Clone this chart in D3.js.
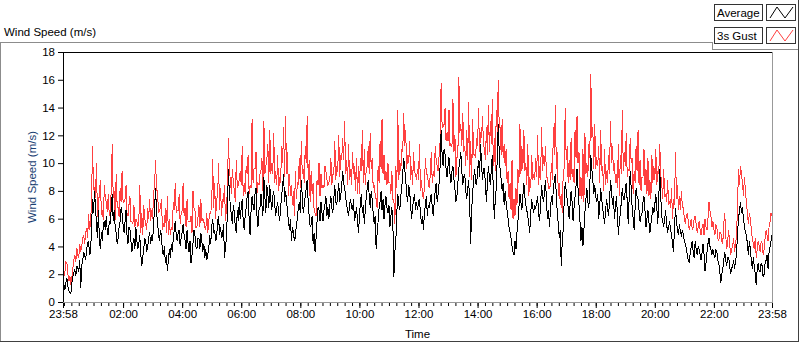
<!DOCTYPE html>
<html><head><meta charset="utf-8">
<script src="https://cdn.jsdelivr.net/npm/d3@7/dist/d3.min.js"></script>
<style>
body{margin:0;background:#fff;}
text{font-family:"Liberation Sans",Arial,sans-serif;}
</style>
</head><body>
<svg id="chart" width="800" height="342"></svg>
<script>
// ---- data (2-minute samples starting 23:58) ----
const stepMinutes = 2;
const seriesNames = ["Average", "3s Gust"];
const gust = [
 2.6,1.9,2.2,2.9,2.8,2.0,1.5,1.9,1.2,1.8,2.4,3.0,3.4,2.9,3.9,3.4,3.2,4.2,3.6,4.0,4.6,4.8,4.2,5.0,5.3,4.6,6.3,5.2,5.6,7.4,
 11.2,8.1,8.2,7.5,10.0,6.1,7.0,7.9,8.8,6.3,6.6,5.9,8.4,7.5,7.2,6.5,7.8,6.2,6.4,8.1,11.4,7.5,8.0,5.9,9.2,6.9,6.8,6.1,8.2,7.2,
 9.4,7.2,7.2,7.4,8.4,6.4,6.2,7.0,7.6,5.8,5.8,5.6,7.0,5.4,6.0,5.8,5.4,5.8,8.4,5.0,6.4,4.8,7.0,6.0,5.6,5.2,6.8,6.0,7.4,5.8,
 6.6,6.0,7.8,8.4,10.2,8.0,8.0,6.4,6.6,6.8,7.4,5.2,5.6,5.4,6.8,5.0,7.6,4.8,6.0,4.8,5.4,5.2,7.2,6.6,8.6,6.4,6.6,6.6,7.8,5.6,
 6.4,6.6,8.6,6.2,6.8,5.4,7.4,5.8,5.8,5.8,6.2,5.0,8.0,6.8,6.6,5.4,5.4,6.0,7.0,5.4,7.4,5.8,6.0,5.8,5.4,5.2,6.4,5.0,5.8,6.4,
 6.4,7.0,10.3,6.8,8.6,6.0,7.4,7.6,10.0,6.6,8.2,6.2,7.4,7.2,8.4,5.8,6.8,8.2,11.8,9.4,8.8,7.8,9.6,8.6,8.0,7.2,10.2,8.2,8.4,8.8,
 9.4,8.4,11.2,7.6,8.6,7.8,9.8,9.2,10.6,7.8,8.4,8.2,13.2,8.6,9.6,9.6,10.8,7.8,8.6,8.4,9.2,9.4,10.4,8.0,13.0,9.2,9.8,10.2,11.4,8.6,
 12.4,9.2,10.0,9.2,12.2,8.6,9.4,8.4,10.6,8.0,9.0,8.6,11.2,10.0,12.6,9.0,13.4,9.2,10.8,7.6,9.2,7.6,8.4,7.0,8.0,6.2,9.4,7.4,8.6,8.4,
 10.4,8.2,11.6,9.2,9.6,8.6,11.2,10.0,13.4,8.8,10.2,7.2,9.4,7.8,8.6,6.6,6.4,6.2,8.8,8.4,10.0,7.6,9.2,8.2,8.4,8.2,9.8,9.4,8.8,8.4,
 8.6,8.8,10.4,8.4,9.2,9.2,11.6,8.8,9.8,9.4,12.0,9.0,10.6,10.2,11.8,10.2,13.0,9.2,10.2,8.4,11.4,8.8,9.6,8.4,10.8,9.2,9.8,8.0,10.4,7.8,
 9.8,7.8,10.4,9.4,12.4,8.6,11.0,8.4,9.6,9.8,11.2,9.2,12.2,9.6,10.4,8.2,8.4,7.8,7.4,6.8,9.8,8.6,11.6,9.6,13.2,9.2,10.6,8.8,9.4,8.4,
 10.0,8.6,8.6,7.8,9.4,7.4,7.4,5.6,9.8,8.2,13.8,8.8,10.2,9.4,11.0,10.8,13.6,11.2,12.4,9.6,10.6,10.0,11.6,8.8,9.8,8.4,10.8,9.4,9.2,8.8,
 9.6,8.8,11.4,8.0,8.8,7.8,7.4,8.2,10.4,9.2,9.2,8.6,8.2,9.2,10.8,8.6,9.4,9.0,11.2,10.2,9.8,9.4,10.6,11.6,15.8,12.6,12.6,12.8,14.0,11.6,
 12.2,11.6,13.8,11.2,11.4,11.2,14.6,10.8,12.0,9.0,10.4,10.4,16.2,12.2,12.8,11.2,13.6,10.8,11.2,9.8,12.4,10.2,14.4,9.0,11.6,8.8,13.2,10.6,10.6,10.4,
 11.8,11.2,14.0,10.8,12.2,11.8,13.4,11.4,11.0,10.2,12.6,10.6,14.2,10.8,13.0,11.4,14.6,9.8,11.8,9.4,13.8,12.2,16.0,12.6,12.6,10.6,13.2,10.4,11.4,9.8,
 11.0,8.6,9.4,7.4,8.6,6.6,10.2,6.0,7.4,6.2,8.2,7.0,9.6,8.6,12.8,9.2,11.2,9.6,12.4,9.4,10.0,8.4,11.4,7.6,9.0,8.2,10.6,8.8,9.2,8.8,
 10.4,9.0,12.0,8.4,9.8,8.8,12.6,9.4,10.6,9.8,11.2,9.0,9.0,8.2,8.2,8.4,10.0,8.8,12.6,10.6,14.2,9.6,10.8,7.6,8.6,7.0,7.8,6.4,9.4,9.6,
 14.0,10.2,11.2,8.6,10.2,8.8,11.8,9.0,9.6,8.6,12.4,10.4,13.4,10.0,10.8,7.6,9.0,7.4,11.0,7.2,12.2,9.2,10.0,9.0,11.4,10.4,16.4,11.8,12.6,9.6,
 12.8,9.6,10.4,9.8,11.2,8.6,12.4,9.4,9.8,8.0,11.0,8.4,9.4,8.6,10.6,9.2,13.0,10.0,11.2,9.4,10.0,8.6,9.2,8.2,11.4,7.6,10.6,9.2,13.8,9.4,
 10.8,9.8,12.2,9.0,9.6,9.4,11.8,10.0,10.4,7.8,9.4,8.6,11.2,9.4,12.4,8.4,10.2,8.0,9.0,9.0,11.0,8.4,9.6,7.8,10.4,7.6,8.8,7.4,10.6,8.6,
 9.8,8.8,11.0,8.4,9.4,9.2,11.4,9.2,8.6,7.4,9.6,7.6,7.8,7.2,8.8,7.0,7.2,6.8,8.2,6.0,7.4,7.0,10.8,7.4,8.4,6.6,7.6,6.6,8.0,6.8,
 6.8,6.0,5.6,6.2,6.4,5.8,5.2,5.6,6.0,5.2,5.4,6.0,6.2,5.6,5.0,5.4,5.8,5.2,4.8,5.4,5.6,4.8,6.0,5.4,5.2,6.0,7.2,6.6,6.2,5.4,
 5.8,5.2,4.8,5.6,5.4,4.6,4.4,5.0,5.0,4.4,4.2,5.6,6.4,4.8,3.8,4.4,5.2,4.2,3.4,3.8,4.0,4.6,3.6,4.2,4.8,7.0,9.6,8.4,9.8,9.2,
 8.6,7.6,9.0,8.0,7.2,6.4,5.6,6.4,6.0,5.2,4.6,4.2,3.8,4.6,3.2,3.8,4.4,4.0,3.6,4.4,4.2,3.4,3.8,4.6,5.2,4.8,4.4,5.4,5.8,6.4,6.2
];
const average = [
 1.5,1.2,0.9,1.4,1.7,1.1,0.8,0.7,0.6,1.4,1.8,2.1,2.3,1.9,2.6,2.4,2.2,3.0,1.0,2.6,3.0,3.6,3.4,3.0,3.8,4.2,4.4,3.4,3.6,5.4,
 7.4,6.4,8.0,6.8,5.6,4.6,6.6,4.4,3.8,5.0,4.4,5.6,5.8,5.2,6.2,5.0,4.8,5.8,5.6,6.8,7.8,5.8,6.6,5.4,5.0,4.2,4.6,5.4,5.8,6.8,
 6.4,5.6,5.0,5.8,6.6,4.8,4.2,5.4,5.2,4.4,3.6,4.2,4.6,3.8,5.4,4.4,3.8,4.2,4.8,3.4,2.6,3.2,3.8,4.6,4.4,3.6,4.0,4.6,5.0,4.2,
 4.8,4.4,5.6,6.8,8.2,6.4,5.8,4.8,4.4,5.2,4.8,3.6,3.4,4.0,2.8,3.4,2.2,3.0,3.8,3.2,4.2,3.6,4.6,5.2,5.8,4.8,4.4,5.0,5.2,4.0,
 4.6,5.0,5.6,4.8,4.4,3.8,5.2,4.2,3.6,4.4,2.8,3.4,4.2,5.2,4.8,4.0,3.8,4.6,4.6,3.8,5.0,4.4,3.6,4.2,3.2,3.8,3.0,3.4,3.8,4.8,
 4.2,5.4,6.0,5.0,5.2,4.4,4.6,5.8,6.2,4.8,5.4,4.6,4.8,5.6,3.2,4.0,4.6,6.6,9.6,7.6,7.0,6.2,5.6,7.0,6.4,5.4,5.0,6.6,5.8,7.2,
 6.0,6.8,7.4,5.8,5.2,6.2,6.8,7.6,8.0,6.0,4.8,6.6,7.6,7.0,6.6,7.8,8.2,6.2,5.4,6.6,6.8,7.8,7.0,6.2,9.0,7.6,6.4,8.4,7.8,6.8,
 8.4,7.4,6.6,7.6,8.0,7.0,6.2,6.8,7.2,6.4,5.8,6.8,7.6,8.4,9.2,7.2,8.0,7.4,6.4,5.8,5.2,6.0,4.4,5.4,5.0,4.4,4.6,5.6,6.0,6.8,
 7.2,6.4,8.8,7.6,6.4,7.0,7.6,8.2,8.8,7.2,6.2,5.4,5.6,6.2,4.2,5.0,3.6,4.6,5.8,6.8,6.6,5.8,7.2,6.4,5.8,6.6,7.0,7.6,6.2,6.8,
 6.0,7.0,7.6,6.8,6.4,7.4,8.4,7.2,7.0,7.8,8.6,7.2,7.6,8.4,9.4,8.6,8.2,7.6,7.0,6.6,6.2,7.0,7.4,6.8,6.6,7.4,5.8,6.2,6.8,6.0,
 5.0,6.0,7.2,7.8,6.4,7.0,5.6,6.6,7.6,8.2,8.8,7.6,6.8,8.0,7.4,6.4,5.6,6.2,3.8,5.0,5.8,6.8,7.2,8.0,6.6,7.4,6.0,7.0,7.6,6.8,
 6.4,7.0,5.4,6.2,6.8,5.6,1.8,3.6,4.4,6.4,7.8,7.0,6.6,7.6,8.2,9.2,10.4,9.6,8.8,7.8,7.2,8.4,8.0,7.0,6.0,6.8,7.4,7.8,6.6,7.2,
 6.6,7.2,7.4,6.4,5.6,6.2,5.2,6.4,7.0,7.6,6.2,7.0,6.8,7.4,7.8,6.8,6.2,7.2,8.0,8.6,7.2,7.8,8.6,9.8,12.4,10.6,9.8,11.0,10.6,9.6,
 9.0,9.8,10.4,9.2,8.6,9.4,9.8,8.8,8.2,7.2,7.6,8.6,9.6,10.2,10.8,9.4,8.4,9.0,9.2,8.0,7.4,8.2,8.8,7.0,4.2,6.6,7.8,8.8,9.6,8.6,
 8.4,9.4,10.2,9.0,11.4,10.0,8.8,9.6,9.6,8.4,7.2,8.6,9.8,9.0,8.4,9.6,10.6,8.0,6.0,7.4,8.2,10.4,12.8,10.8,9.4,8.8,8.0,8.6,7.0,8.0,
 7.2,6.6,6.0,5.4,5.0,4.6,4.0,3.6,3.4,4.4,3.8,5.0,5.8,6.8,7.8,7.2,6.6,7.6,8.6,7.6,7.0,6.6,6.2,5.6,5.0,6.4,7.4,6.8,6.4,7.0,
 6.8,7.2,7.6,6.4,5.8,7.0,8.4,7.6,7.2,8.0,8.8,7.2,6.0,6.6,5.4,6.6,7.6,7.0,8.2,8.8,9.2,7.6,6.4,5.6,4.6,5.2,2.6,4.4,5.2,7.4,
 8.6,8.0,7.4,6.8,6.0,7.0,8.0,7.2,5.8,6.8,7.6,8.4,9.6,8.2,7.0,5.8,4.4,5.4,4.0,5.2,6.4,7.4,8.2,7.2,6.8,8.4,10.6,9.6,8.8,7.8,
 8.4,7.6,7.2,7.8,6.0,6.8,8.2,7.4,6.8,6.2,5.6,6.6,7.4,6.8,6.2,7.2,8.8,8.0,7.0,7.6,6.0,6.8,7.6,6.4,4.8,5.8,6.4,7.2,8.2,7.4,
 7.4,8.0,8.6,7.2,5.6,7.6,9.4,8.2,6.8,6.0,5.2,6.8,8.2,7.6,7.4,6.6,5.8,6.2,6.4,7.2,7.6,6.6,5.4,6.0,6.6,5.8,5.0,5.6,6.2,6.8,
 6.4,7.0,7.8,6.8,5.6,7.4,9.6,7.6,6.2,5.8,5.4,6.0,6.6,5.6,5.0,5.4,5.8,5.2,4.8,4.2,3.6,5.4,6.8,5.8,5.2,4.8,5.6,5.0,4.8,5.2,
 4.8,4.4,4.2,3.8,3.4,3.0,2.8,3.6,4.0,4.4,3.6,3.2,4.4,3.8,3.4,4.0,3.8,3.4,3.0,3.6,4.2,3.4,2.2,2.8,3.6,4.2,4.6,4.0,3.8,3.4,
 3.8,3.4,3.2,3.8,3.6,3.0,2.8,2.2,1.4,2.0,2.4,3.0,3.6,3.0,2.6,3.2,3.2,2.6,2.0,2.4,2.6,3.0,2.4,3.0,3.4,5.0,6.0,6.6,7.2,6.4,
 6.8,6.0,5.4,5.0,4.8,4.2,3.4,4.4,3.8,3.0,2.4,3.2,2.6,2.0,1.2,2.4,2.8,2.2,2.2,2.8,2.6,1.8,2.0,2.8,3.0,3.4,2.4,3.6,4.0,4.4,4.8
];
const xTickMinutes = [0,122,242,362,482,602,722,842,962,1082,1202,1322,1440];
const xTickLabels = ["23:58","02:00","04:00","06:00","08:00","10:00","12:00","14:00","16:00","18:00","20:00","22:00","23:58"];
const xMinorMinutes = d3.range(2, 1440, 15);
const yTicks = [0,2,4,6,8,10,12,14,16,18];

// ---- drawing ----
const svg = d3.select("#chart");
const L = 63, R = 772, T = 52, B = 302;
const x = d3.scaleLinear().domain([0, 1440]).range([L, R]);
const y = d3.scaleLinear().domain([0, 18]).range([B, T]);

// outer frame
const frame = svg.append("g").attr("fill","none");
frame.append("line").attr("x1",0).attr("y1",42.5).attr("x2",712).attr("y2",42.5).attr("stroke","#8c8c8c");
frame.append("line").attr("x1",0.5).attr("y1",42).attr("x2",0.5).attr("y2",341).attr("stroke","#8c8c8c");
frame.append("line").attr("x1",0).attr("y1",341.5).attr("x2",799).attr("y2",341.5).attr("stroke","#404040");
frame.append("line").attr("x1",798.5).attr("y1",0).attr("x2",798.5).attr("y2",342).attr("stroke","#404040");
frame.append("line").attr("x1",712.5).attr("y1",42).attr("x2",712.5).attr("y2",49).attr("stroke","#8c8c8c");
frame.append("line").attr("x1",712).attr("y1",49.5).attr("x2",798).attr("y2",49.5).attr("stroke","#8c8c8c");

// title
svg.append("text").attr("x",4).attr("y",36).attr("font-size",11.5).attr("fill","#000").text("Wind Speed (m/s)");

// plot background
svg.append("rect").attr("x",L).attr("y",T).attr("width",R-L).attr("height",B-T).attr("fill","#fff");

// data lines
const line = d3.line().x((d,i)=>x(i*stepMinutes)).y(d=>y(d));
svg.append("path").datum(gust).attr("d",line).attr("fill","none")
  .attr("stroke","#ff4040").attr("stroke-width",1).attr("shape-rendering","crispEdges");
svg.append("path").datum(average).attr("d",line).attr("fill","none")
  .attr("stroke","#000").attr("stroke-width",1).attr("shape-rendering","crispEdges");

// plot frame
svg.append("line").attr("x1",L).attr("y1",T+0.5).attr("x2",R).attr("y2",T+0.5).attr("stroke","#000");
svg.append("line").attr("x1",L+0.5).attr("y1",T).attr("x2",L+0.5).attr("y2",B).attr("stroke","#000");
svg.append("line").attr("x1",R+0.5).attr("y1",T).attr("x2",R+0.5).attr("y2",B+1).attr("stroke","#999");
svg.append("line").attr("x1",L).attr("y1",B+0.5).attr("x2",R+1).attr("y2",B+0.5).attr("stroke","#999");

// y axis
const yAxis = d3.axisLeft(y).tickValues(yTicks).tickSize(5).tickPadding(3).tickFormat(d3.format("d"));
const gy = svg.append("g").attr("transform",`translate(${L},0)`).call(yAxis);
gy.select(".domain").remove();
gy.selectAll("line").attr("stroke","#000");
gy.selectAll("text").attr("font-size",11.5).attr("fill","#000").attr("font-family","Liberation Sans, Arial, sans-serif");

// x axis minor ticks
const xMinor = d3.axisBottom(x).tickValues(xMinorMinutes).tickSize(3).tickFormat("");
const gxm = svg.append("g").attr("transform",`translate(0,${B+1})`).call(xMinor);
gxm.select(".domain").remove();
gxm.selectAll("line").attr("stroke","#000");
// x axis majors
const xAxis = d3.axisBottom(x).tickValues(xTickMinutes).tickSize(5).tickPadding(2)
  .tickFormat((d,i)=>xTickLabels[i]);
const gx = svg.append("g").attr("transform",`translate(0,${B+1})`).call(xAxis);
gx.select(".domain").remove();
gx.selectAll("line").attr("stroke","#000");
gx.selectAll("text").attr("font-size",11.5).attr("fill","#000").attr("font-family","Liberation Sans, Arial, sans-serif");

// axis titles
svg.append("text").attr("x",(L+R)/2).attr("y",338).attr("text-anchor","middle")
  .attr("font-size",11.5).attr("fill","#000").text("Time");
svg.append("text").attr("transform",`translate(36,${(T+B)/2}) rotate(-90)`).attr("text-anchor","middle")
  .attr("font-size",11.5).attr("fill","#1b3f73").text("Wind Speed (m/s)");

// legend
const legend = svg.append("g");
seriesNames.forEach((name,i)=>{
  const yy = 4 + i*23;
  legend.append("rect").attr("x",714.5).attr("y",yy+0.5).attr("width",48).attr("height",16)
    .attr("fill","#fff").attr("stroke","#333");
  legend.append("text").attr("x",717).attr("y",yy+12.5).attr("font-size",11.5).attr("fill","#000").text(name);
  legend.append("rect").attr("x",766.5).attr("y",yy+0.5).attr("width",29).attr("height",16)
    .attr("fill","#fff").attr("stroke","#333");
  const pts = [[770,yy+14],[777,yy+3],[785,yy+14],[793,yy+3]];
  legend.append("path").attr("d",d3.line()(pts)).attr("fill","none")
    .attr("stroke", i===0 ? "#000" : "#ff4040").attr("stroke-width",1);
});
</script>
</body></html>
